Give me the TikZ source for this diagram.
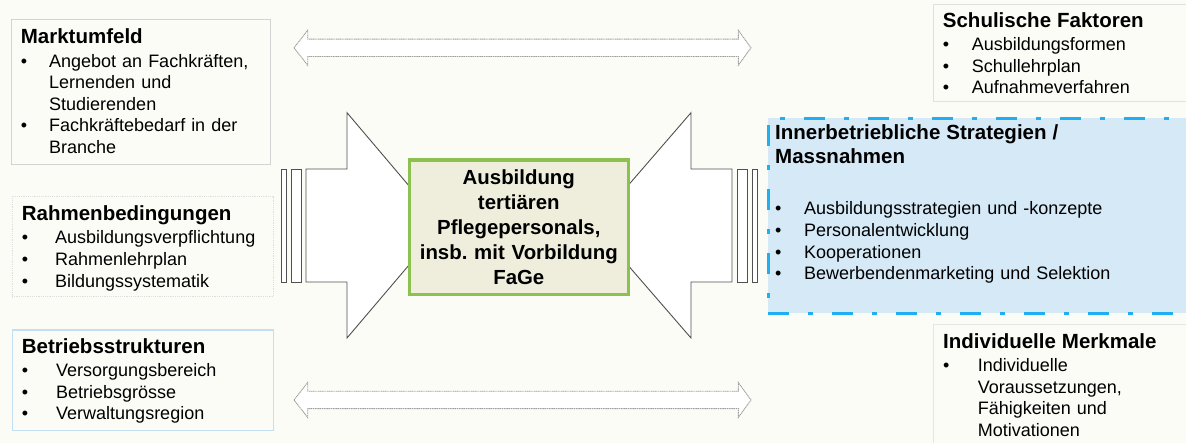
\documentclass[tikz,border=0pt]{standalone}
\usepackage{fontspec}
\setmainfont{Liberation Sans}
\definecolor{paper}{HTML}{FCFCF7}
\definecolor{frame}{HTML}{D3D3D3}
\definecolor{sky}{HTML}{C3DFF1}
\definecolor{strat}{HTML}{1FAEEF}
\definecolor{stratfill}{HTML}{D5E9F6}
\definecolor{core}{HTML}{8CC152}
\definecolor{corefill}{HTML}{EFEEDC}
\definecolor{outline}{HTML}{505050}

% bullet line with indented continuation lines, heading line of a panel
\newcommand{\bul}[2][29pt]{\par\noindent\leftskip=#1\relax\hspace*{-#1}\makebox[#1][l]{\textbullet}#2\par}
\newcommand{\boxhead}[2][1.6pt]{{\fontsize{20.5}{24.7}\selectfont\bfseries #2\par}\vspace{#1}}

\begin{document}
\begin{tikzpicture}[
  x=1pt, y=-1pt,
  panel/.style={rectangle, line width=1.2pt, anchor=north west, inner sep=0pt},
  txt/.style={anchor=base west, inner sep=0pt, text width=#1, font=\fontsize{18}{21.6}\selectfont},
  fat/.style={draw=outline, fill=white, line width=0.9pt, line join=miter},
  twin/.style={draw=gray!75, fill=white, line width=0.9pt, dash pattern=on 1.2pt off 0.6pt}]
\useasboundingbox (0,0) rectangle (1186,443);
\fill[paper] (0,0) rectangle (1186,443);

% double arrows top and bottom
\foreach \yy in {47.8,400}
  \draw[twin] (294,\yy) -- (307.7,\yy-17.5) -- (307.7,\yy-8.7) -- (738.3,\yy-8.7) -- (738.3,\yy-17.5)
    -- (751,\yy) -- (738.3,\yy+17.5) -- (738.3,\yy+8.7) -- (307.7,\yy+8.7) -- (307.7,\yy+17.5) -- cycle;

% block arrows pointing at the centre
\draw[fat] (306,169) -- (347,169) -- (347,112.7) -- (442.6,225.5) -- (347,338) -- (347,282) -- (306,282) -- cycle;
\draw[fat] (281,169) rectangle (286,282);
\draw[fat] (291,169) rectangle (301,282);
\draw[fat] (732,169) -- (691,169) -- (691,112.7) -- (593.5,225.5) -- (691,338) -- (691,282) -- (732,282) -- cycle;
\draw[fat] (737,169) rectangle (747,282);
\draw[fat] (752,169) rectangle (757,282);

\node[draw=core, fill=corefill, line width=3.2pt, inner sep=3pt, text width=213pt, minimum height=134.5pt,
  align=center, font=\fontsize{20.4}{25}\selectfont\bfseries] (kern) at (518.8,227.2)
  {Ausbildung\\ tertiären\\ Pflegepersonals,\\ insb.\ mit Vorbildung\\ FaGe};

% panels on the left
\node[panel, draw=frame, minimum width=259pt, minimum height=145pt] (markt) at (11,19) {};
\node[txt=250pt] (markt-t) at ([shift={(9.7,25)}]markt.north west) {\boxhead{Marktumfeld}%
  \bul[28.3pt]{Angebot an Fachkräften,\newline Lernenden und\newline Studierenden}%
  \bul[28.3pt]{Fachkräftebedarf in der\newline Branche}};

\node[panel, draw=gray!25, densely dotted, line width=1pt, minimum width=261pt, minimum height=100pt] (rahmen) at (11.5,196.5) {};
\node[txt=250pt] (rahmen-t) at ([shift={(10.2,24.2)}]rahmen.north west) {\boxhead{Rahmenbedingungen}%
  \bul[33.3pt]{Ausbildungsverpflichtung}\bul[33.3pt]{Rahmenlehrplan}\bul[33.3pt]{Bildungssystematik}};

\node[panel, draw=sky, minimum width=261pt, minimum height=100.5pt] (betrieb) at (11.5,329.5) {};
\node[txt=250pt] (betrieb-t) at ([shift={(10.2,23.8)}]betrieb.north west) {\boxhead{Betriebsstrukturen}%
  \bul[34.3pt]{Versorgungsbereich}\bul[34.3pt]{Betriebsgrösse}\bul[34.3pt]{Verwaltungsregion}};

% panels on the right
\node[panel, draw=frame!70, minimum width=267pt, minimum height=97pt] (schul) at (933,4) {};
\node[txt=250pt] (schul-t) at ([shift={(9.7,23.3)}]schul.north west) {\boxhead{Schulische Faktoren}%
  \bul{Ausbildungsformen}\bul{Schullehrplan}\bul{Aufnahmeverfahren}};

\node[panel, draw=strat, fill=stratfill, line width=3.3pt, dash pattern=on 21pt off 19pt on 5pt off 19pt,
  minimum width=443pt, minimum height=195pt] (strat) at (766.6,116.6) {};
\node[txt=400pt, font=\fontsize{18}{21.9}\selectfont] (strat-t) at ([shift={(8.4,22.7)}]strat.north west)
  {\boxhead[28.4pt]{Innerbetriebliche Strategien /\newline Massnahmen}%
  \bul{Ausbildungsstrategien und -konzepte}\bul{Personalentwicklung}\bul{Kooperationen}%
  \bul{Bewerbendenmarketing und Selektion}};

\node[panel, draw=frame!60, minimum width=267pt, minimum height=136pt] (indiv) at (933,324) {};
\node[txt=250pt] (indiv-t) at ([shift={(10,24.3)}]indiv.north west) {\boxhead{Individuelle Merkmale}%
  \bul[34.7pt]{Individuelle\newline Voraussetzungen,\newline Fähigkeiten und\newline Motivationen}};
\end{tikzpicture}
\end{document}
